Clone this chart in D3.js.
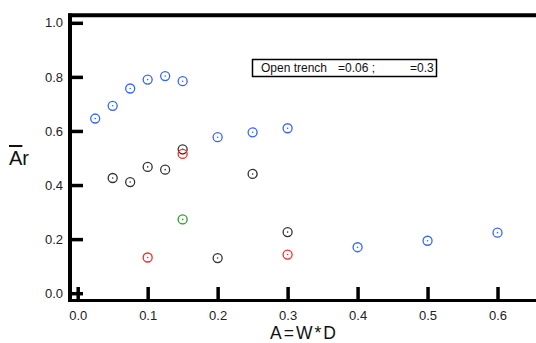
<!DOCTYPE html>
<html>
<head>
<meta charset="utf-8">
<script src="https://cdn.jsdelivr.net/npm/d3@7"></script>
<style>
  html, body { margin: 0; padding: 0; background: #fff; }
  svg { display: block; font-family: "Liberation Sans", Arial, sans-serif; }
</style>
</head>
<body>
<svg id="chart" width="536" height="343"></svg>
<script>
// Relative ratio Ār against A = W*D, grouped by marker colour
const blueA   = [0.025, 0.05, 0.075, 0.10, 0.125, 0.15, 0.20, 0.25, 0.30, 0.40, 0.50, 0.60];
const blueAr  = [0.646, 0.693, 0.757, 0.790, 0.803, 0.784, 0.577, 0.595, 0.610, 0.170, 0.194, 0.224];

const blackA  = [0.05, 0.075, 0.10, 0.125, 0.15, 0.20, 0.25, 0.30];
const blackAr = [0.426, 0.411, 0.467, 0.457, 0.532, 0.130, 0.441, 0.226];

const redA    = [0.10, 0.15, 0.30];
const redAr   = [0.132, 0.515, 0.143];

const greenA  = [0.15];
const greenAr = [0.273];

const xTicks = [0.0, 0.1, 0.2, 0.3, 0.4, 0.5, 0.6];
const yTicks = [0.0, 0.2, 0.4, 0.6, 0.8, 1.0];
const legendParts = ["Open trench", "=0.06 ;", "=0.3"];

const series = [
  { xs: blueA,  ys: blueAr,  color: "#3366ff" },
  { xs: blackA, ys: blackAr, color: "#333333" },
  { xs: redA,   ys: redAr,   color: "#ff2a2a" },
  { xs: greenA, ys: greenAr, color: "#22a022" }
];

const svg = d3.select("#chart");
const x = d3.scaleLinear().domain([-0.011, 0.655]).range([70, 536]);
const y = d3.scaleLinear().domain([-0.027, 1.027]).range([300.5, 15.5]);

// Frame lines (left, top, bottom)
svg.append("line").attr("x1", 70).attr("x2", 70).attr("y1", 13.5).attr("y2", 302)
  .attr("stroke", "#000").attr("stroke-width", 4);
svg.append("line").attr("x1", 68).attr("x2", 536).attr("y1", 15.3).attr("y2", 15.3)
  .attr("stroke", "#000").attr("stroke-width", 4);
svg.append("line").attr("x1", 68).attr("x2", 536).attr("y1", 300.5).attr("y2", 300.5)
  .attr("stroke", "#000").attr("stroke-width", 3);

// Y axis
const yAxis = svg.append("g").attr("transform", "translate(70,0)")
  .call(d3.axisLeft(y).tickValues(yTicks).tickFormat(d3.format(".1f"))
    .tickSizeInner(-13).tickSizeOuter(0).tickPadding(7));
yAxis.select(".domain").remove();
yAxis.selectAll(".tick line").attr("stroke", "#000").attr("stroke-width", 3.5);
yAxis.selectAll(".tick text").attr("font-size", 13).attr("fill", "#222")
  .attr("font-family", "Liberation Sans, Arial, sans-serif");

// X axis
const xAxis = svg.append("g").attr("transform", "translate(0,300)")
  .call(d3.axisBottom(x).tickValues(xTicks).tickFormat(d3.format(".1f"))
    .tickSizeInner(-13).tickSizeOuter(0).tickPadding(11));
xAxis.select(".domain").remove();
xAxis.selectAll(".tick line").attr("stroke", "#000").attr("stroke-width", 3.5);
xAxis.selectAll(".tick text").attr("font-size", 13).attr("fill", "#222")
  .attr("font-family", "Liberation Sans, Arial, sans-serif");

// Axis titles
svg.append("text").attr("x", 304).attr("y", 339).attr("text-anchor", "middle")
  .attr("font-size", 17.5).attr("letter-spacing", 2).attr("fill", "#111").text("A=W*D");
const yl = svg.append("text").attr("x", 9).attr("y", 165).attr("font-size", 20).attr("fill", "#111");
yl.append("tspan").style("text-decoration", "overline").text("A");
yl.append("tspan").text("r");

// Legend box
svg.append("rect").attr("x", 252.5).attr("y", 59.5).attr("width", 184).attr("height", 17)
  .attr("fill", "#fff").attr("stroke", "#000").attr("stroke-width", 1.5);
const lg = svg.append("text").attr("y", 72).attr("font-size", 12).attr("fill", "#111");
[261, 338, 410].forEach((px, i) => lg.append("tspan").attr("x", px).text(legendParts[i]));

// Markers: open circles with a small centre dot
series.forEach(s => {
  const pts = s.xs.map((a, i) => [a, s.ys[i]]);
  const g = svg.append("g");
  g.selectAll("circle.ring").data(pts).join("circle").attr("class", "ring")
    .attr("cx", d => x(d[0])).attr("cy", d => y(d[1])).attr("r", 4.5)
    .attr("fill", "none").attr("stroke", s.color).attr("stroke-width", 1.3);
  g.selectAll("circle.dot").data(pts).join("circle").attr("class", "dot")
    .attr("cx", d => x(d[0])).attr("cy", d => y(d[1])).attr("r", 0.8)
    .attr("fill", s.color);
});
</script>
</body>
</html>
